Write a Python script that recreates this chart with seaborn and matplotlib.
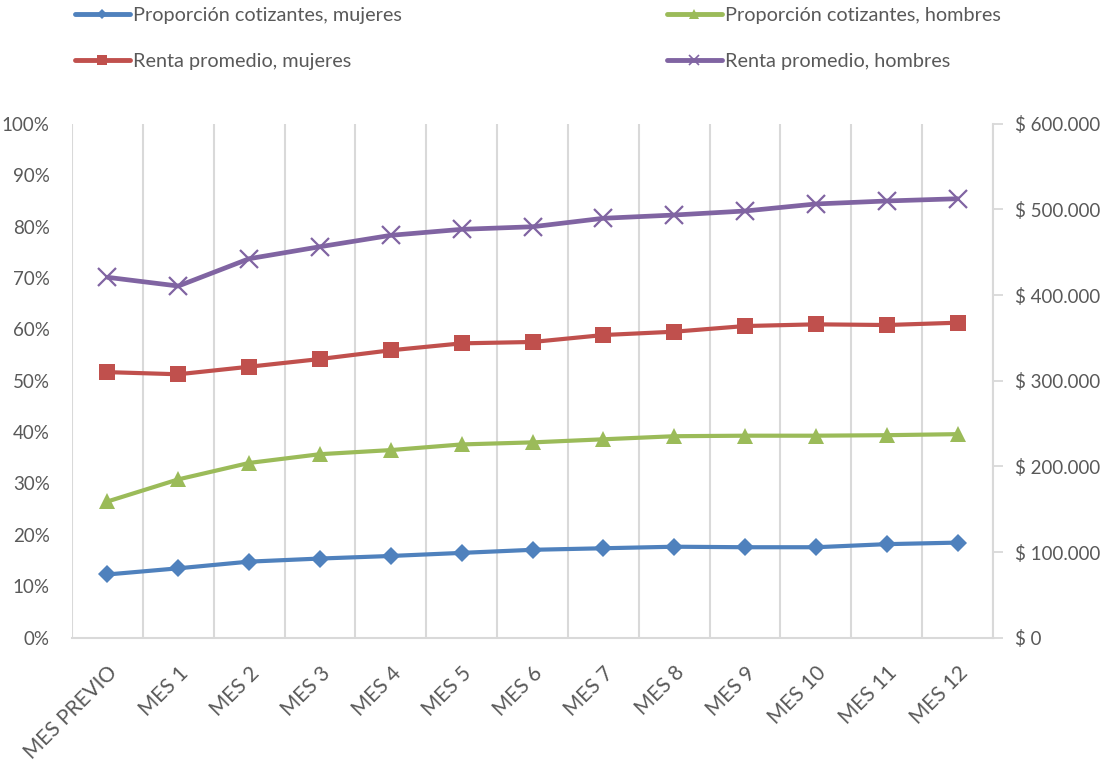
import numpy as np
import pandas as pd
import matplotlib
matplotlib.use("Agg")
import matplotlib.pyplot as plt
from matplotlib.lines import Line2D
from matplotlib.ticker import FuncFormatter, MultipleLocator, FixedLocator
import seaborn as sns

# ---- data ----
categories = ["MES PREVIO", "MES 1", "MES 2", "MES 3", "MES 4", "MES 5", "MES 6",
              "MES 7", "MES 8", "MES 9", "MES 10", "MES 11", "MES 12"]
prop_mujeres = [0.123, 0.135, 0.148, 0.154, 0.159, 0.165, 0.171,
                0.174, 0.177, 0.176, 0.176, 0.182, 0.185]
prop_hombres = [0.265, 0.308, 0.340, 0.357, 0.365, 0.376, 0.380,
                0.386, 0.392, 0.393, 0.393, 0.394, 0.396]
renta_mujeres = [310000, 307500, 316300, 325300, 335500, 343600, 345200,
                 353300, 357200, 363800, 365800, 365000, 367700]
renta_hombres = [420700, 410500, 442400, 456400, 469700, 476700, 479700,
                 489600, 493400, 498100, 506300, 509800, 512400]

labels = ["Proporción cotizantes, mujeres", "Proporción cotizantes, hombres",
          "Renta promedio, mujeres", "Renta promedio, hombres"]
colors = ["#4F81BD", "#9BBB59", "#C0504D", "#8064A2"]

df = pd.DataFrame({
    "pos": np.arange(len(categories)),
    "mes": categories,
    "prop_m": prop_mujeres,
    "prop_h": prop_hombres,
    "renta_m": renta_mujeres,
    "renta_h": renta_hombres,
})

sns.set_style("white")
plt.rcParams["font.family"] = ["Lato", "DejaVu Sans"]
TXT = "#595959"
GRID = "#d9d9d9"
FS = 13.5

fig = plt.figure(figsize=(11.05, 7.72), dpi=100)
ax1 = fig.add_axes([72 / 1105, 1 - 637.7 / 772, (993 - 72) / 1105, (637.7 - 123.7) / 772])
ax2 = ax1.twinx()

lw = 3.0
sns.lineplot(data=df, x="pos", y="prop_m", ax=ax1, color=colors[0], linewidth=lw,
             marker="D", markersize=8.8, markeredgewidth=0, markeredgecolor=colors[0],
             legend=False)
sns.lineplot(data=df, x="pos", y="prop_h", ax=ax1, color=colors[1], linewidth=lw,
             marker="^", markersize=12, markeredgewidth=0, markeredgecolor=colors[1],
             legend=False)
sns.lineplot(data=df, x="pos", y="renta_m", ax=ax2, color=colors[2], linewidth=lw,
             marker="s", markersize=11.5, markeredgewidth=0, markeredgecolor=colors[2],
             legend=False)
sns.lineplot(data=df, x="pos", y="renta_h", ax=ax2, color=colors[3], linewidth=3.4,
             marker="x", markersize=12.5, markeredgewidth=1.6, markeredgecolor=colors[3],
             legend=False)

for ax in (ax1, ax2):
    ax.set_xlim(-0.5, len(categories) - 0.5)
    ax.set_xlabel("")
    ax.set_ylabel("")

ax1.set_ylim(0, 1)
ax2.set_ylim(0, 600000)
ax1.yaxis.set_major_locator(MultipleLocator(0.1))
ax1.yaxis.set_major_formatter(FuncFormatter(lambda v, p: f"{v * 100:.0f}%"))
ax2.yaxis.set_major_locator(MultipleLocator(100000))
ax2.yaxis.set_major_formatter(
    FuncFormatter(lambda v, p: "$ " + f"{int(round(v)):,}".replace(",", ".")))

# x axis: labels at categories, gridlines at boundaries
ax1.set_xticks(df["pos"])
ax1.set_xticklabels(categories, rotation=45, ha="right", rotation_mode="anchor",
                    fontsize=15, color=TXT)
ax1.xaxis.set_minor_locator(FixedLocator(np.arange(-0.5, len(categories), 1.0)))
ax1.grid(False)
ax2.grid(False)
ax1.grid(axis="x", which="minor", color=GRID, linewidth=1.5)
ax1.tick_params(axis="x", which="major", length=0, pad=18)
ax1.tick_params(axis="x", which="minor", length=0)
ax1.tick_params(axis="y", length=0, pad=16, labelsize=FS, labelcolor=TXT)
ax2.tick_params(axis="y", length=7, width=1.3, color=GRID, pad=9,
                labelsize=FS, labelcolor=TXT, direction="out")
ax1.set_axisbelow(True)

for ax in (ax1, ax2):
    for s in ax.spines.values():
        s.set_visible(False)
ax1.spines["bottom"].set_visible(True)
ax1.spines["bottom"].set_color(GRID)
ax1.spines["bottom"].set_linewidth(1.5)
ax2.spines["right"].set_visible(True)
ax2.spines["right"].set_color(GRID)
ax2.spines["right"].set_linewidth(1.5)

# legend
def handle(i, m, ms):
    return Line2D([0], [0], color=colors[i], linewidth=3.5, marker=m, markersize=ms,
                  markeredgecolor=colors[i], markeredgewidth=1.2 if m == "x" else 0)

h = [handle(0, "D", 5), handle(1, "^", 7), handle(2, "s", 7), handle(3, "x", 7)]
LFS = 14.3
common = dict(frameon=False, fontsize=LFS, handlelength=2.75, handletextpad=0.15,
              labelspacing=1.45, borderpad=0, borderaxespad=0, labelcolor=TXT)
leg1 = fig.legend([h[0], h[2]], [labels[0], labels[2]], loc="upper left",
                  bbox_to_anchor=(75 / 1105, 1 - 7 / 772), **common)
leg2 = fig.legend([h[1], h[3]], [labels[1], labels[3]], loc="upper left",
                  bbox_to_anchor=(667 / 1105, 1 - 7 / 772), **common)

fig.savefig("out.png", dpi=100)
